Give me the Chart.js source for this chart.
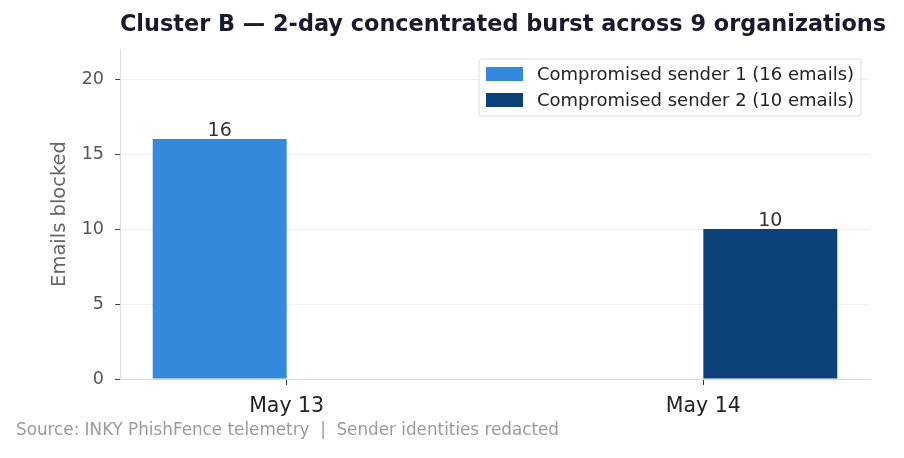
<!DOCTYPE html>
<html>
<head>
<meta charset="utf-8">
<script src="https://cdn.jsdelivr.net/npm/chart.js@4.4.1/dist/chart.umd.min.js"></script>
<style>
  html, body { margin: 0; padding: 0; background: #fff; }
</style>
</head>
<body>
<canvas id="chart" width="904" height="458"></canvas>
<script>
// Chart data
const categories = ["May 13", "May 14"];
const sender1 = [16, null];
const sender2 = [null, 10];
const seriesNames = ["Compromised sender 1 (16 emails)", "Compromised sender 2 (10 emails)"];
const seriesColors = ["#3589dc", "#0c4279"];
const yTicks = [0, 5, 10, 15, 20];
const yMax = 22;

const titleText = "Cluster B \u2014 2-day concentrated burst across 9 organizations";
const sourceText = "Source: INKY PhishFence telemetry  |  Sender identities redacted";
const FONT = "'DejaVu Sans', sans-serif";

function toPoints(values) {
    return categories.map((c, i) => ({ x: i, y: values[i] }));
}

// draws bar labels, title, source line and the in-plot legend
const overlay = {
    id: "overlay",
    afterDatasetsDraw(chart) {
        const ctx = chart.ctx;
        ctx.save();
        ctx.font = "19px " + FONT;
        ctx.fillStyle = "#333";
        ctx.textAlign = "center";
        ctx.textBaseline = "alphabetic";
        chart.data.datasets.forEach((ds, di) => {
            const meta = chart.getDatasetMeta(di);
            meta.data.forEach((bar, i) => {
                const v = ds.data[i].y;
                if (v == null) return;
                ctx.fillText(String(v), bar.x, bar.y - 3);
            });
        });
        ctx.restore();
    },
    afterDraw(chart) {
        const ctx = chart.ctx;
        const area = chart.chartArea;
        ctx.save();

        ctx.font = "bold 22.4px " + FONT;
        ctx.fillStyle = "#1a1a2e";
        ctx.textAlign = "center";
        ctx.textBaseline = "middle";
        ctx.fillText(titleText, 503, 25);

        ctx.font = "16.8px " + FONT;
        ctx.fillStyle = "#9a9a9a";
        ctx.textAlign = "left";
        ctx.fillText(sourceText, 16, 431);

        // legend box
        const bw = 382, bh = 57;
        const bx = area.right - 9 - bw;
        const by = area.top + 10;
        ctx.beginPath();
        ctx.roundRect(bx, by, bw, bh, 3);
        ctx.fillStyle = "rgba(255,255,255,0.85)";
        ctx.fill();
        ctx.strokeStyle = "#dddddd";
        ctx.lineWidth = 1;
        ctx.stroke();
        ctx.font = "18px " + FONT;
        chart.data.datasets.forEach((ds, i) => {
            const ry = by + 15 + i * 26;
            ctx.fillStyle = ds.backgroundColor;
            ctx.fillRect(bx + 7, ry - 7, 37, 14);
            ctx.fillStyle = "#222";
            ctx.fillText(ds.label, bx + 58, ry + 1);
        });
        ctx.restore();
    }
};

const chart = new Chart(document.getElementById("chart"), {
    type: "bar",
    data: {
        datasets: [
            {
                label: seriesNames[0],
                data: toPoints(sender1),
                backgroundColor: seriesColors[0],
                borderWidth: 0,
                categoryPercentage: 0.643,
                barPercentage: 1
            },
            {
                label: seriesNames[1],
                data: toPoints(sender2),
                backgroundColor: seriesColors[1],
                borderWidth: 0,
                categoryPercentage: 0.643,
                barPercentage: 1
            }
        ]
    },
    options: {
        responsive: false,
        animation: false,
        layout: { padding: { left: 0, right: 34, top: 49, bottom: 0 } },
        plugins: {
            legend: { display: false },
            title: { display: false },
            tooltip: { enabled: false }
        },
        scales: {
            x: {
                type: "linear",
                min: -0.4,
                max: 1.4,
                offset: false,
                afterBuildTicks: (scale) => {
                    scale.ticks = categories.map((c, i) => ({ value: i }));
                },
                afterFit: (scale) => { scale.height = 79; },
                ticks: {
                    callback: (v) => categories[v] ?? "",
                    color: "#222",
                    font: { family: FONT, size: 20.5 },
                    padding: 9,
                    maxRotation: 0
                },
                grid: {
                    offset: false,
                    drawOnChartArea: false,
                    drawTicks: true,
                    tickLength: 6,
                    tickColor: "#333"
                },
                border: { color: "#dddddd" }
            },
            y: {
                min: 0,
                max: yMax,
                afterBuildTicks: (scale) => {
                    scale.ticks = yTicks.map(v => ({ value: v }));
                },
                afterFit: (scale) => { scale.width = 120; },
                ticks: {
                    color: "#555",
                    font: { family: FONT, size: 17.5 },
                    padding: 11
                },
                grid: {
                    color: "#eeeeee",
                    tickColor: "#444",
                    tickLength: 5
                },
                border: { color: "#dddddd" },
                title: {
                    display: true,
                    text: "Emails blocked",
                    color: "#666",
                    font: { family: FONT, size: 19.5 },
                    padding: { top: 48, bottom: 0 }
                }
            }
        }
    },
    plugins: [overlay]
});
</script>
</body>
</html>
